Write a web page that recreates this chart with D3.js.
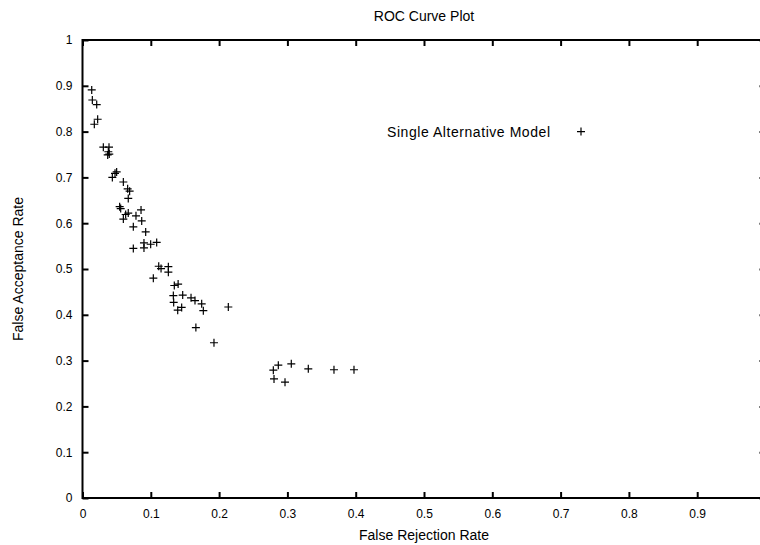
<!DOCTYPE html>
<html>
<head>
<meta charset="utf-8">
<script src="https://cdn.jsdelivr.net/npm/d3@7"></script>
<style>
  html, body { margin: 0; padding: 0; background: #fff; overflow: hidden; }
  svg { display: block; }
  text { font-family: "Liberation Sans", Arial, Helvetica, sans-serif; fill: #000; }
</style>
</head>
<body>
<svg id="chart" width="760" height="545"></svg>
<script>
// ---- data ----
const seriesName = "Single Alternative Model";
const frr = [0.0135, 0.0144, 0.0208, 0.0222, 0.0173, 0.0305, 0.0388, 0.0378, 0.0392, 0.0369,
  0.050, 0.0476, 0.0437, 0.0598, 0.0661, 0.069, 0.067, 0.0544, 0.0559, 0.0857,
  0.067, 0.0632, 0.0783, 0.0598, 0.0867, 0.0744, 0.0925, 0.090, 0.0998, 0.1086,
  0.0744, 0.090, 0.1116, 0.115, 0.1257, 0.1257, 0.1037, 0.1344, 0.140, 0.133,
  0.1467, 0.1589, 0.1647, 0.1335, 0.1745, 0.1769, 0.1394, 0.1452, 0.2135, 0.166,
  0.1925, 0.2794, 0.2867, 0.3057, 0.3306, 0.3682, 0.3975, 0.2804, 0.2965];
const far = [0.891, 0.869, 0.859, 0.827, 0.816, 0.766, 0.766, 0.756, 0.751, 0.749,
  0.712, 0.709, 0.700, 0.690, 0.675, 0.670, 0.654, 0.636, 0.632, 0.629,
  0.622, 0.619, 0.616, 0.609, 0.605, 0.592, 0.581, 0.557, 0.554, 0.558,
  0.545, 0.546, 0.506, 0.501, 0.505, 0.493, 0.480, 0.464, 0.467, 0.442,
  0.443, 0.437, 0.431, 0.427, 0.424, 0.409, 0.410, 0.416, 0.417, 0.372,
  0.339, 0.279, 0.290, 0.293, 0.282, 0.280, 0.280, 0.260, 0.253];
const xTicks = [0, 0.1, 0.2, 0.3, 0.4, 0.5, 0.6, 0.7, 0.8, 0.9];
const xTickLabels = ["0", "0.1", "0.2", "0.3", "0.4", "0.5", "0.6", "0.7", "0.8", "0.9"];
const yTicks = [0, 0.1, 0.2, 0.3, 0.4, 0.5, 0.6, 0.7, 0.8, 0.9, 1];
const yTickLabels = ["0", "0.1", "0.2", "0.3", "0.4", "0.5", "0.6", "0.7", "0.8", "0.9", "1"];
const titleText = "ROC Curve Plot";
const xLabel = "False Rejection Rate";
const yLabel = "False Acceptance Rate";

// ---- layout ----
const svg = d3.select("#chart");
const pLeft = 82.5, pRight = 765.5, pTop = 40, pBottom = 498;
const x = d3.scaleLinear().domain([0, 1]).range([pLeft, pRight]);
const y = d3.scaleLinear().domain([0, 1]).range([pBottom, pTop]);
const fs = 12, lfs = 14;

// border
svg.append("rect")
  .attr("x", pLeft).attr("y", pTop)
  .attr("width", pRight - pLeft).attr("height", pBottom - pTop)
  .attr("fill", "none").attr("stroke", "#000").attr("stroke-width", 2);

const tickLen = 6;
function styleAxis(g) {
  g.select(".domain").remove();
  g.selectAll(".tick line").attr("stroke", "#000").attr("stroke-width", 2);
  g.selectAll(".tick text").attr("font-size", fs).attr("font-family", "Liberation Sans, Arial, sans-serif").attr("fill", "#000");
}

// bottom axis
svg.append("g").attr("transform", `translate(0,${pBottom})`)
  .call(d3.axisBottom(x).tickValues(xTicks).tickFormat((d, i) => xTickLabels[i]).tickSize(-tickLen).tickPadding(11))
  .call(styleAxis);
// top axis (mirror ticks, no labels)
svg.append("g").attr("transform", `translate(0,${pTop})`)
  .call(d3.axisTop(x).tickValues(xTicks).tickFormat("").tickSize(-tickLen))
  .call(styleAxis);
// left axis
svg.append("g").attr("transform", `translate(${pLeft},0)`)
  .call(d3.axisLeft(y).tickValues(yTicks).tickFormat((d, i) => yTickLabels[i]).tickSize(-tickLen).tickPadding(10))
  .call(styleAxis);
// right axis (mirror)
svg.append("g").attr("transform", `translate(${pRight},0)`)
  .call(d3.axisRight(y).tickValues(yTicks).tickFormat("").tickSize(-tickLen))
  .call(styleAxis);

// points (+ markers)
const ps = 4;
const plusPath = (cx, cy) => `M${cx - ps},${cy}H${cx + ps}M${cx},${cy - ps}V${cy + ps}`;
const pts = frr.map((d, i) => [d, far[i]]);
svg.append("g").selectAll("path").data(pts).join("path")
  .attr("d", d => plusPath(x(d[0]), y(d[1])))
  .attr("stroke", "#000").attr("stroke-width", 1.2).attr("fill", "none");

// legend
const legY = y(0.8);
svg.append("text").attr("x", 387).attr("y", legY).attr("dy", "0.35em")
  .attr("text-anchor", "start").attr("font-size", lfs)
  .attr("textLength", 163).attr("lengthAdjust", "spacing").text(seriesName);
svg.append("path").attr("d", plusPath(581, legY))
  .attr("stroke", "#000").attr("stroke-width", 1.2);

// title & labels
svg.append("text").attr("x", 424).attr("y", 16).attr("dy", "0.35em")
  .attr("text-anchor", "middle").attr("font-size", lfs).text(titleText);
svg.append("text").attr("x", 424).attr("y", 535).attr("dy", "0.35em")
  .attr("text-anchor", "middle").attr("font-size", lfs).text(xLabel);
svg.append("text").attr("transform", `translate(18,${(pTop + pBottom) / 2}) rotate(-90)`)
  .attr("dy", "0.35em").attr("text-anchor", "middle").attr("font-size", lfs).text(yLabel);
</script>
</body>
</html>
